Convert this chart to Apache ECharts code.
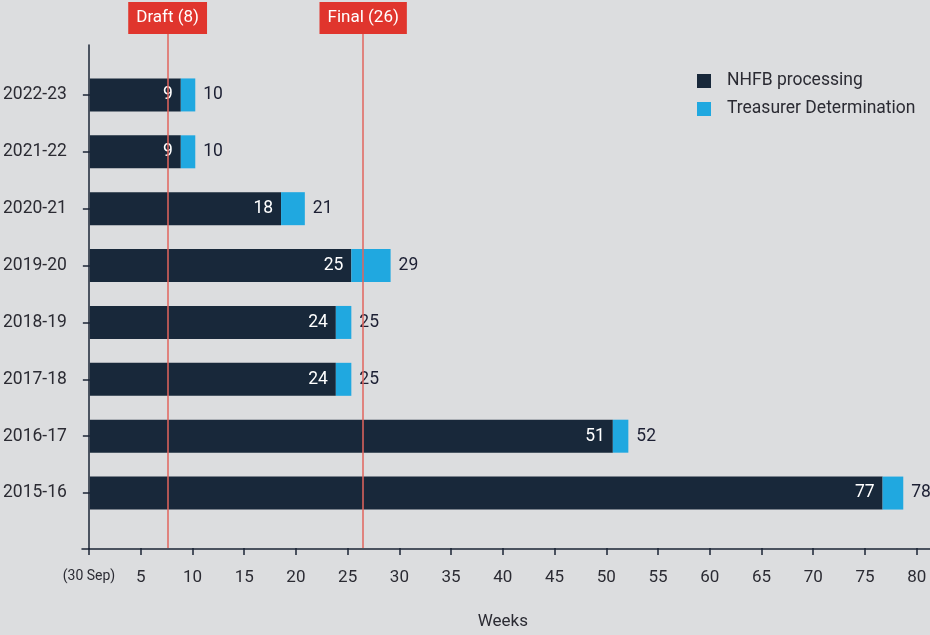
<!DOCTYPE html>
<html>
<head>
<meta charset="utf-8">
<script src="https://cdn.jsdelivr.net/npm/echarts@6/dist/echarts.min.js"></script>
<style>
html,body{margin:0;padding:0;background:#dcdddf;}
#c{width:930px;height:635px;}
</style>
</head>
<body>
<div id="c"></div>
<script>
const categories = ['2022-23','2021-22','2020-21','2019-20','2018-19','2017-18','2016-17','2015-16'];
const nhfbWeeks = [8.8, 8.8, 18.5, 25.3, 23.8, 23.8, 50.6, 76.7];
const treasurerWeeks = [1.4, 1.4, 2.3, 3.8, 1.5, 1.5, 1.5, 2.0];
const nhfbLabels = [9, 9, 18, 25, 24, 24, 51, 77];
const totalLabels = [10, 10, 21, 29, 25, 25, 52, 78];
const milestoneNames = ['Draft (8)', 'Final (26)'];
const milestoneWeeks = [7.6, 26.5];
const xTicks = [0,5,10,15,20,25,30,35,40,45,50,55,60,65,70,75,80];

const FONT = 'Roboto';
const TXT = '#2b2b33';
const chart = echarts.init(document.getElementById('c'), null, {renderer:'canvas'});

const option = {
  backgroundColor: '#dcdddf',
  textStyle: {fontFamily: FONT},
  animation: false,
  legend: {
    orient: 'vertical', left: 697, top: 72, padding: 0,
    itemWidth: 14, itemHeight: 14, itemGap: 10,
    icon: 'rect',
    textStyle: {fontFamily: FONT, fontSize: 17.5, color: TXT, padding: [0,0,0,11]},
    data: ['NHFB processing', 'Treasurer Determination']
  },
  grid: [
    {left: 89, right: 13.3, top: 66.5, bottom: 113.5},  // bars
    {left: 89, right: 13.3, top: 34, bottom: 86},       // ticks, labels, marklines
    {left: 89, right: 0, top: 45, bottom: 86},          // y axis line
    {left: 82, right: 0, top: 45, bottom: 86}           // x axis line
  ],
  xAxis: [
    {gridIndex: 0, type: 'value', min: 0, max: 80, show: false},
    {gridIndex: 1, type: 'value', min: 0, max: 80, interval: 5,
      axisLine: {show: false}, splitLine: {show: false},
      axisTick: {show: true, length: 7, lineStyle: {color: '#1b2536', width: 1.5}},
      axisLabel: {margin: 21, fontSize: 17, color: TXT, fontFamily: FONT,
        formatter: v => v === 0 ? '{s|(30 Sep)}' : (xTicks.indexOf(v) >= 0 ? String(v) : ''),
        rich: {s: {fontSize: 14, color: TXT, fontFamily: FONT}}},
      name: 'Weeks', nameLocation: 'middle', nameGap: 65,
      nameTextStyle: {fontSize: 17, color: TXT, fontFamily: FONT}
    },
    {gridIndex: 2, type: 'value', min: 0, max: 1, show: false},
    {gridIndex: 3, type: 'value', min: 0, max: 1,
      axisLine: {show: true, lineStyle: {color: '#1b2536', width: 1.5}},
      axisTick: {show: false}, axisLabel: {show: false}, splitLine: {show: false}}
  ],
  yAxis: [
    {gridIndex: 0, type: 'category', data: categories, inverse: true,
      axisLine: {show: false},
      axisTick: {show: true, length: 7, alignWithLabel: true, lineStyle: {color: '#1b2536', width: 1.5}},
      axisLabel: {margin: 23, fontSize: 17.5, color: TXT, fontFamily: FONT}},
    {gridIndex: 1, type: 'value', min: 0, max: 1, show: false},
    {gridIndex: 2, type: 'value', min: 0, max: 1,
      axisLine: {show: true, lineStyle: {color: '#1b2536', width: 1.5}},
      axisTick: {show: false}, axisLabel: {show: false}, splitLine: {show: false}},
    {gridIndex: 3, type: 'value', min: 0, max: 1, show: false}
  ],
  series: [
    {
      name: 'NHFB processing', type: 'bar', stack: 'a', xAxisIndex: 0, yAxisIndex: 0,
      barWidth: 33, data: nhfbWeeks,
      itemStyle: {color: '#18283a'},
      label: {show: true, position: 'insideRight', distance: 8, color: '#ffffff', fontSize: 17.5, fontFamily: FONT,
        formatter: p => String(nhfbLabels[p.dataIndex])}
    },
    {
      name: 'Treasurer Determination', type: 'bar', stack: 'a', xAxisIndex: 0, yAxisIndex: 0,
      barWidth: 33, data: treasurerWeeks,
      itemStyle: {color: '#20a8e0'},
      label: {show: true, position: 'right', distance: 8, color: '#1c1f33', fontSize: 17.5, fontFamily: FONT,
        formatter: p => String(totalLabels[p.dataIndex])}
    },
    {
      name: 'milestones', type: 'scatter', xAxisIndex: 1, yAxisIndex: 1, data: [],
      silent: true,
      markLine: {
        silent: true, symbol: ['none','none'], animation: false,
        lineStyle: {color: '#e2645e', width: 1.5, type: 'solid'},
        label: {show: true, position: 'end', distance: 0,
          backgroundColor: '#e0352d', color: '#ffffff', fontSize: 17, fontFamily: FONT,
          lineHeight: 20, padding: [6, 8, 6, 8],
          formatter: p => p.name},
        data: milestoneNames.map((n, i) => ({name: n, xAxis: milestoneWeeks[i]}))
      }
    }
  ]
};
chart.setOption(option);
</script>
</body>
</html>
